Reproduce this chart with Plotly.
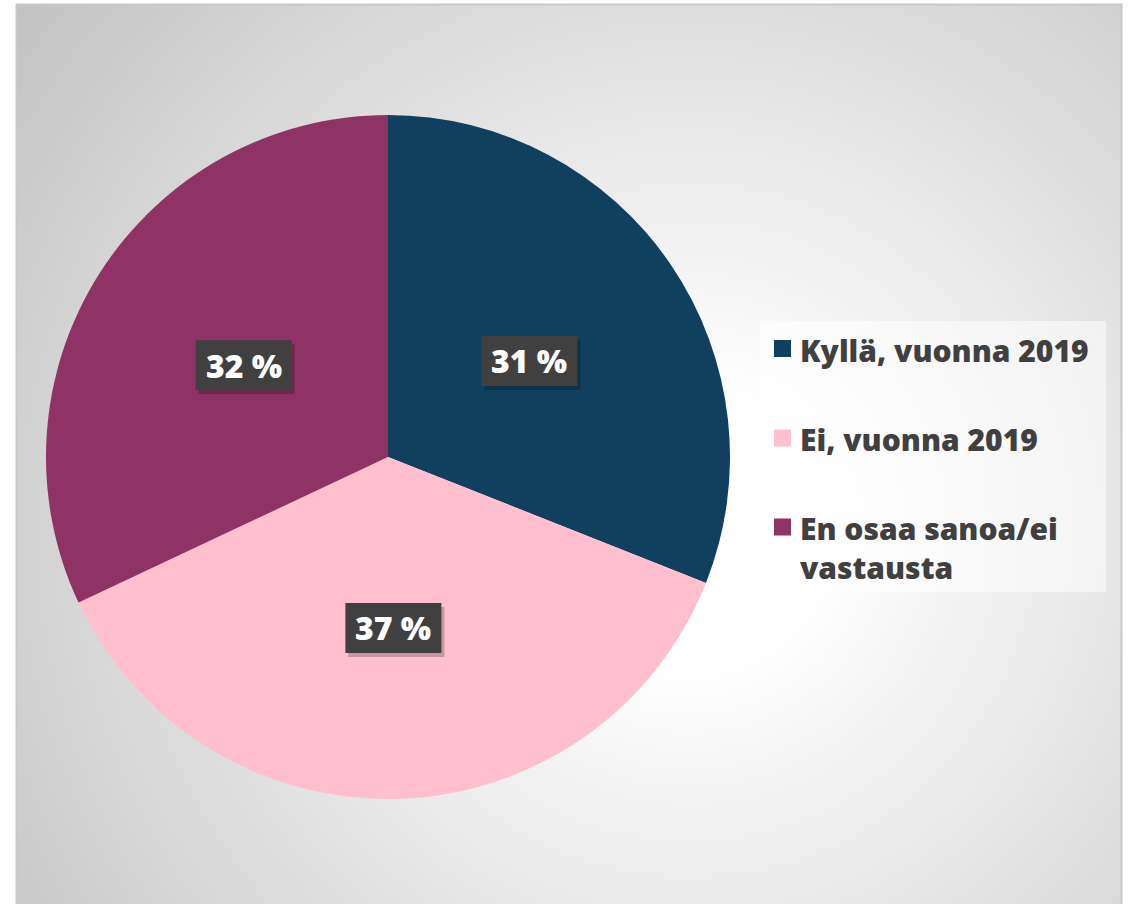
import math
import base64
import plotly.graph_objects as go

# ---- data ----
labels = ["Kyllä, vuonna 2019", "Ei, vuonna 2019", "En osaa sanoa/ei<br>vastausta"]
values = [31, 37, 32]
colors = ["#11405F", "#FFBFCE", "#8E3363"]
label_texts = [f"{v} %" for v in values]

W, H = 1132, 904

# pie placement (pixels)
cx_px, cy_px, R_px = 388, 457, 342
dom_x = [(cx_px - R_px) / W, (cx_px + R_px) / W]
dom_y = [1 - (cy_px + R_px) / H, 1 - (cy_px - R_px) / H]

# background panel (radial gradient) as SVG image
svg = f'''<svg xmlns="http://www.w3.org/2000/svg" width="{W}" height="{H}" viewBox="0 0 {W} {H}">
<defs>
<radialGradient id="g" gradientUnits="userSpaceOnUse" cx="690" cy="530" r="860">
<stop offset="0" stop-color="#ffffff"/>
<stop offset="0.15" stop-color="#ffffff"/>
<stop offset="1" stop-color="#c2c2c2"/>
</radialGradient>
</defs>
<rect x="16.5" y="4.5" width="1105" height="910" fill="url(#g)" stroke="#c9c9c9" stroke-width="2"/>
</svg>'''
src = "data:image/svg+xml;base64," + base64.b64encode(svg.encode()).decode()

fig = go.Figure()
fig.add_trace(go.Pie(
    labels=labels,
    values=values,
    marker=dict(colors=colors, line=dict(width=0)),
    sort=False,
    direction="clockwise",
    rotation=0,
    textinfo="none",
    hoverinfo="label+percent",
    domain=dict(x=dom_x, y=dom_y),
    showlegend=False,
))

annotations = []
shapes = []
BW, BH = 96, 50
# slice labels at mid-angle, half radius
total = sum(values)
cum = 0
for v, t in zip(values, label_texts):
    mid = (cum + v / 2) / total * 2 * math.pi
    cum += v
    r = 0.5 * R_px
    px = cx_px + r * math.sin(mid)
    py = cy_px - r * math.cos(mid)
    # shadow
    shapes.append(dict(type="rect", xref="paper", yref="paper",
                       x0=(px - BW / 2 + 3) / W, x1=(px + BW / 2 + 3) / W,
                       y0=1 - (py + BH / 2 + 4) / H, y1=1 - (py - BH / 2 + 4) / H,
                       fillcolor="rgba(0,0,0,0.22)", line=dict(width=0), layer="above"))
    shapes.append(dict(type="rect", xref="paper", yref="paper",
                       x0=(px - BW / 2) / W, x1=(px + BW / 2) / W,
                       y0=1 - (py + BH / 2) / H, y1=1 - (py - BH / 2) / H,
                       fillcolor="#404040", line=dict(width=0), layer="above"))
    annotations.append(dict(
        x=px / W, y=1 - py / H, xref="paper", yref="paper", text=t, showarrow=False,
        xanchor="center", yanchor="middle",
        font=dict(family="Open Sans", size=32, color="#ffffff", weight=800),
    ))

# custom legend
shapes.append(dict(type="rect", xref="paper", yref="paper",
                   x0=760 / W, x1=1106 / W, y0=1 - 592 / H, y1=1 - 321 / H,
                   fillcolor="rgba(255,255,255,0.55)", line=dict(width=0), layer="above"))
leg_centers = [348.5, 438, 527]
for lab, col, yc in zip(labels, colors, leg_centers):
    shapes.append(dict(type="rect", xref="paper", yref="paper",
                       x0=774 / W, x1=791 / W, y0=1 - (yc + 8.5) / H, y1=1 - (yc - 8.5) / H,
                       fillcolor=col, line=dict(width=0), layer="above"))
    annotations.append(dict(
        x=798 / W, y=1 - (yc - 21) / H, xref="paper", yref="paper",
        xanchor="left", yanchor="top", align="left", showarrow=False,
        text=lab,
        font=dict(family="Open Sans", size=30, color="#404040", weight=800),
    ))

fig.update_layout(
    width=W, height=H, autosize=False,
    margin=dict(l=0, r=0, t=0, b=0),
    paper_bgcolor="#ffffff",
    images=[dict(source=src, xref="paper", yref="paper", x=0, y=1,
                 sizex=1, sizey=1, sizing="stretch", xanchor="left", yanchor="top",
                 layer="below")],
    shapes=shapes,
    annotations=annotations,
)

fig.write_html("out.html", config={"displayModeBar": False},
               post_script="document.body.style.margin='0px';")
